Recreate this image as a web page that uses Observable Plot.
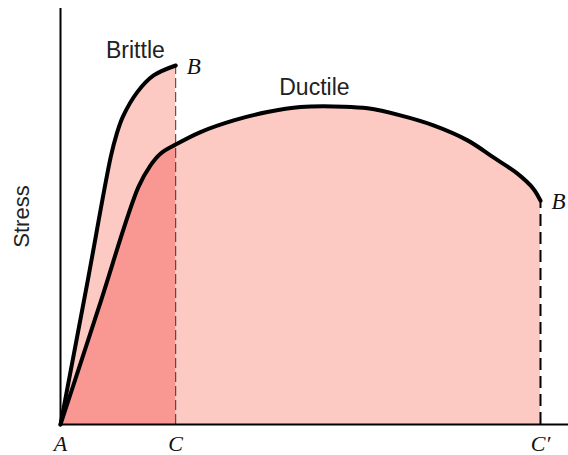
<!DOCTYPE html>
<html>
<head>
<meta charset="utf-8">
<script src="https://cdn.jsdelivr.net/npm/d3@7"></script>
<script src="https://cdn.jsdelivr.net/npm/@observablehq/plot@0.6"></script>
<style>
  html, body { margin: 0; padding: 0; background: #fff; }
</style>
</head>
<body>
<div id="chart"></div>
<script>
// Strain (arbitrary units) and stress (arbitrary units)
const brittleStrain = [0, 0.55, 1.05, 1.17, 1.30, 1.60, 1.94, 2.40];
const brittleStress = [0, 3.35, 6.45, 6.98, 7.40, 7.99, 8.39, 8.63];

const ductileStrain = [0, 0.80, 1.62, 1.875, 2.083, 2.40, 2.917, 3.61, 4.31, 5.0, 5.90, 6.40, 7.08, 7.77, 8.48, 9.02, 9.52, 9.85, 10.0];
const ductileStress = [0, 2.82, 5.70, 6.23, 6.51, 6.73, 7.03, 7.31, 7.51, 7.63, 7.64, 7.60, 7.43, 7.19, 6.83, 6.42, 6.03, 5.67, 5.38];

const tickValues = [0, 2.4, 10];
const tickLabels = ["A", "C", "C\u2032"];

const curveNames = ["Brittle", "Ductile"];
const curveNameX = [1.56, 5.29];
const curveNameY = [8.80, 7.91];

const fractureStrain = [2.4, 10.0];
const fractureStress = [8.63, 5.38];
const fractureLabel = ["B", "B"];

const lightFill = "#fcc9c3";
const darkFill = "#f99893";

const brittle = brittleStrain.map((x, i) => ({x, y: brittleStress[i]}));
const ductile = ductileStrain.map((x, i) => ({x, y: ductileStress[i]}));
const ductileC = ductile.filter(d => d.x <= tickValues[1]);
const names = curveNames.map((t, i) => ({t, x: curveNameX[i], y: curveNameY[i]}));
const fracture = fractureStrain.map((x, i) => ({x, y: fractureStress[i], t: fractureLabel[i]}));

const curve = "catmull-rom";

const chart = Plot.plot({
  width: 568,
  height: 455,
  marginLeft: 60,
  marginRight: 0,
  marginTop: 8,
  marginBottom: 31,
  x: {domain: [0, 508 / 48]},
  y: {domain: [0, 10]},
  style: {background: "#fff"},
  marks: [
    Plot.areaY(ductile, {x: "x", y: "y", fill: lightFill, curve}),
    Plot.areaY(brittle, {x: "x", y: "y", fill: lightFill, curve}),
    Plot.areaY(ductileC, {x: "x", y: "y", fill: darkFill, curve}),
    Plot.ruleX([fracture[0]], {x: "x", y1: 0, y2: "y", stroke: "#333", strokeWidth: 1, strokeDasharray: "10,4"}),
    Plot.ruleX([fracture[1]], {x: "x", y1: 0, y2: "y", stroke: "#000", strokeWidth: 2, strokeDasharray: "12,6"}),
    Plot.lineY(ductile, {x: "x", y: "y", stroke: "#000", strokeWidth: 4, curve, strokeLinejoin: "round"}),
    Plot.lineY(brittle, {x: "x", y: "y", stroke: "#000", strokeWidth: 4, curve, strokeLinejoin: "round"}),
    Plot.ruleX([0], {stroke: "#000", strokeWidth: 2}),
    Plot.ruleY([0], {stroke: "#000", strokeWidth: 2}),
    Plot.axisX({ticks: tickValues, tickFormat: (d, i) => tickLabels[i], tickSize: 0, tickPadding: 11,
      fontFamily: "Liberation Serif", fontStyle: "italic", fontSize: 22, fill: "#111", label: null}),
    Plot.axisY({ticks: [], label: "Stress", labelAnchor: "center", labelArrow: "none", labelOffset: 47,
      fontFamily: "Liberation Sans", fontSize: 22, fill: "#222"}),
    Plot.text(names, {x: "x", y: "y", text: "t", fontFamily: "Liberation Sans", fontSize: 23, fill: "#222", lineAnchor: "bottom"}),
    Plot.text(fracture, {x: "x", y: "y", text: "t", dx: 11, dy: 1, textAnchor: "start", fontFamily: "Liberation Serif", fontStyle: "italic", fontSize: 23, fill: "#111"})
  ]
});
document.getElementById("chart").appendChild(chart);
</script>
</body>
</html>
